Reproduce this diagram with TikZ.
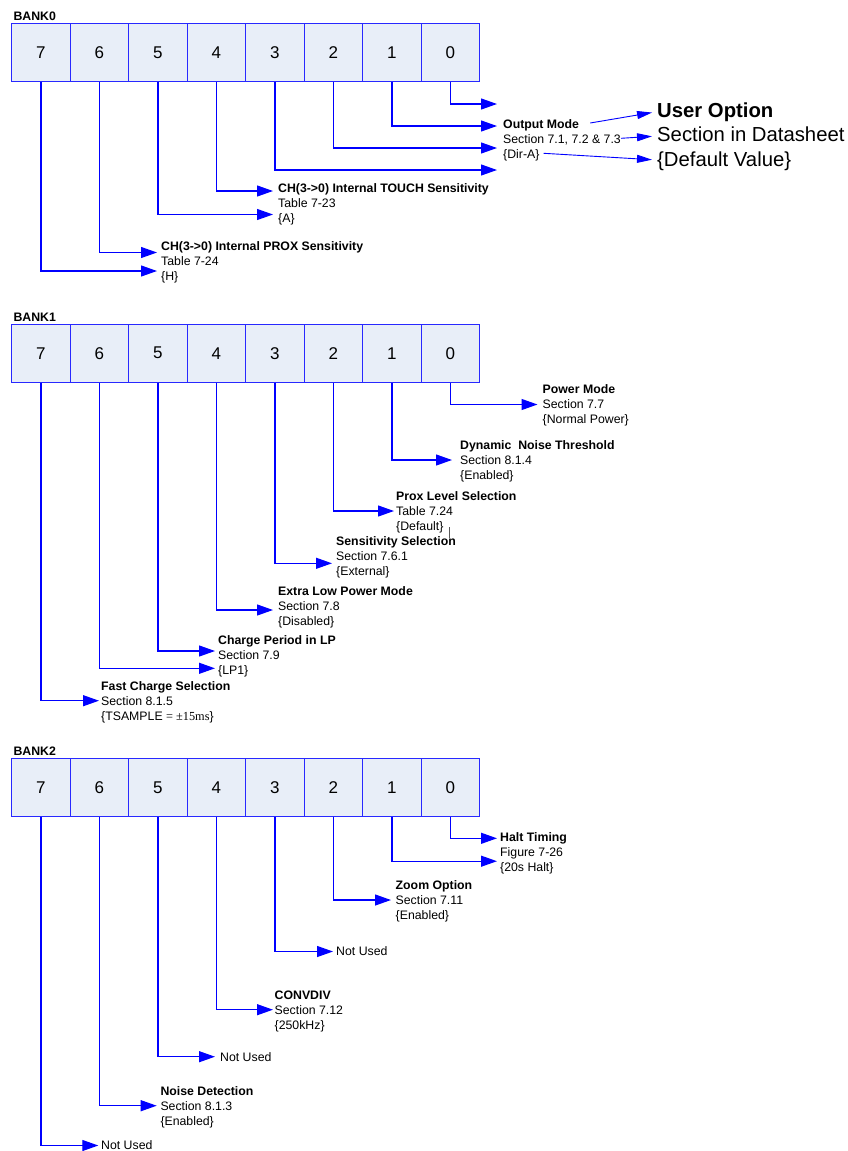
\documentclass[tikz,border=0pt]{standalone}
\usepackage{fontspec}
\setmainfont{Liberation Sans}
\newfontfamily\serifff{Liberation Serif}
\usetikzlibrary{arrows.meta}
\definecolor{cellblue}{RGB}{40,40,255}
\definecolor{cellfill}{RGB}{232,238,248}
\newcommand\tblk[6]{%
  \node[btxt] (#1-1) at ({#2},{#3}) {#4};
  \node[txt] (#1-2) at ({#2},{#3+15}) {#5};
  \node[txt] (#1-3) at ({#2},{#3+30}) {#6};
}
\begin{document}
\begin{tikzpicture}[x=1pt,y=-1pt,
  txt/.style={anchor=west, inner sep=0pt, text height=8.8pt, text depth=0pt, font=\fontsize{12.3}{15}\selectfont},
  btxt/.style={txt, font=\fontsize{12.3}{15}\selectfont\bfseries},
  legtxt/.style={anchor=west, inner sep=0pt, text height=14.5pt, text depth=0pt, font=\fontsize{20.3}{24}\selectfont},
  legbold/.style={legtxt, font=\fontsize{20.3}{24}\selectfont\bfseries},
  cell/.style={draw=cellblue, fill=cellfill, line width=1.2pt, minimum width=58.5pt, minimum height=58pt, inner sep=0pt, font=\fontsize{17}{20}\selectfont},
  conn/.style={draw=blue, line width=1.2pt, -{Triangle[length=16pt,width=11pt]}},
  legconn/.style={draw=blue, line width=0.9pt, -{Triangle[length=15pt,width=8pt]}}
]
\useasboundingbox (0,0) rectangle (848,1151);

% ---------- register cells ----------
\foreach \b/\yc in {0/52.3, 1/353.2, 2/787.7} {
  \foreach \i in {0,...,7} {
    \node[cell] (B\b-\i) at ({450.45-58.5*\i},\yc) {\i};
  }
}
\node[btxt] (L0) at (13.3,15.7) {BANK0};
\node[btxt] (L1) at (13.3,316.7) {BANK1};
\node[btxt] (L2) at (13.3,750.7) {BANK2};

% ---------- BANK0 ----------
\tblk{om}{503}{124}{Output Mode}{Section 7.1, 7.2 \& 7.3}{\{Dir-A\}}
\tblk{touch}{278}{188}{CH(3->0) Internal TOUCH Sensitivity}{Table 7-23}{\{A\}}
\tblk{prox}{161}{246.5}{CH(3->0) Internal PROX Sensitivity}{Table 7-24}{\{H\}}

\coordinate (f0-0) at (497,104);
\coordinate (f0-2) at (497,148);
\coordinate (f0-3) at (497,170);
\draw[conn] (B0-0.south) |- (f0-0);
\draw[conn, shorten >=6pt] (B0-1.south) |- ([yshift=-2pt]om-1.west);
\draw[conn] (B0-2.south) |- (f0-2);
\draw[conn] (B0-3.south) |- (f0-3);
\draw[conn, shorten >=5pt] (B0-4.south) |- ([yshift=-3pt]touch-1.west);
\draw[conn, shorten >=5pt] (B0-5.south) |- ([yshift=3.5pt]touch-3.west);
\draw[conn, shorten >=4pt] (B0-6.south) |- ([yshift=-6pt]prox-1.west);
\draw[conn, shorten >=4pt] (B0-7.south) |- ([yshift=5.5pt]prox-3.west);

% legend
\node[legbold] (leg1) at (657,110) {User Option};
\node[legtxt] (leg2) at (657,134.5) {Section in Datasheet};
\node[legtxt] (leg3) at (657,159) {\{Default Value\}};
\draw[legconn, shorten >=5pt] ([xshift=11pt,yshift=1pt]om-1.east) -- ([yshift=-1.7pt]leg1.west);
\draw[legconn, shorten >=5pt] ([yshift=0.7pt]om-2.east) -- ([yshift=-1.5pt]leg2.west);
\draw[legconn, shorten >=5pt] ([xshift=4pt,yshift=0.7pt]om-3.east) -- ([yshift=-1pt]leg3.west);

% ---------- BANK1 ----------
\tblk{pm}{542.5}{389.5}{Power Mode}{Section 7.7}{\{Normal Power\}}
\tblk{dn}{460}{445}{Dynamic~ Noise Threshold}{Section 8.1.4}{\{Enabled\}}
\tblk{pl}{396}{496}{Prox Level Selection}{Table 7.24}{\{Default\}}
\tblk{ss}{336}{541}{Sensitivity Selection}{Section 7.6.1}{\{External\}}
\tblk{elp}{278}{590.7}{Extra Low Power Mode}{Section 7.8}{\{Disabled\}}
\tblk{cp}{218}{640}{Charge Period in LP}{Section 7.9}{\{LP1\}}
\tblk{fc}{101}{685.7}{Fast Charge Selection}{Section 8.1.5}{\{TSAMPLE {\serifff = ±15ms}\}}

\draw[conn, shorten >=5pt] (B1-0.south) |- (pm-2.west);
\draw[conn, shorten >=8pt] (B1-1.south) |- (dn-2.west);
\draw[conn, shorten >=2pt] (B1-2.south) |- (pl-2.west);
\draw[conn, shorten >=4pt] (B1-3.south) |- ([yshift=-7.3pt]ss-2.west);
\draw[conn, shorten >=5pt] (B1-4.south) |- ([yshift=-4.3pt]elp-2.west);
\draw[conn, shorten >=3pt] (B1-5.south) |- ([yshift=4pt]cp-2.west);
\draw[conn, shorten >=3pt] (B1-6.south) |- ([yshift=1.7pt]cp-3.west);
\draw[conn, shorten >=2pt] (B1-7.south) |- (fc-2.west);
\draw[line width=0.8pt, black!65] (449,527) -- (449,538);

% ---------- BANK2 ----------
\tblk{ht}{500}{837.5}{Halt Timing}{Figure 7-26}{\{20s Halt\}}
\tblk{zo}{395.5}{885}{Zoom Option}{Section 7.11}{\{Enabled\}}
\node[txt] (nu3) at (336,951.5) {Not Used};
\tblk{cv}{274.5}{994.7}{CONVDIV}{Section 7.12}{\{250kHz\}}
\node[txt] (nu5) at (220,1056.7) {Not Used};
\tblk{nd}{160.3}{1090.7}{Noise Detection}{Section 8.1.3}{\{Enabled\}}
\node[txt] (nu7) at (101,1145.5) {Not Used};

\draw[conn, shorten >=3pt] (B2-0.south) |- ([yshift=-0.8pt]ht-1.west);
\draw[conn, shorten >=3pt] (B2-1.south) |- ([yshift=6.3pt]ht-3.west);
\draw[conn, shorten >=4.5pt] (B2-2.south) |- (zo-2.west);
\draw[conn, shorten >=3pt] (B2-3.south) |- (nu3.west);
\draw[conn, shorten >=1.5pt] (B2-4.south) |- (cv-2.west);
\draw[conn, shorten >=5pt] (B2-5.south) |- (nu5.west);
\draw[conn, shorten >=3.6pt] (B2-6.south) |- (nd-2.west);
\draw[conn, shorten >=2.7pt] (B2-7.south) |- (nu7.west);
\end{tikzpicture}
\end{document}
